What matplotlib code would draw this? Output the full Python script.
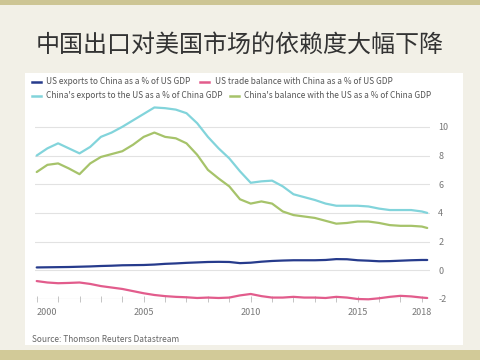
import matplotlib
matplotlib.use("Agg")
import matplotlib.pyplot as plt
from matplotlib.lines import Line2D
from matplotlib.patches import Rectangle

plt.rcParams['font.family'] = ['Noto Sans CJK SC', 'DejaVu Sans']

title = "中国出口对美国市场的依赖度大幅下降"
source = "Source: Thomson Reuters Datastream"
series_names = [
    "US exports to China as a % of US GDP",
    "US trade balance with China as a % of US GDP",
    "China's exports to the US as a % of China GDP",
    "China's balance with the US as a % of China GDP",
]
colors = ["#263b8c", "#e25c8c", "#82d4db", "#a6c36a"]

years = [2000.0, 2000.5, 2001.0, 2001.5, 2002.0, 2002.5, 2003.0, 2003.5, 2004.0, 2004.5,
         2005.0, 2005.5, 2006.0, 2006.5, 2007.0, 2007.5, 2008.0, 2008.5, 2009.0, 2009.5,
         2010.0, 2010.5, 2011.0, 2011.5, 2012.0, 2012.5, 2013.0, 2013.5, 2014.0, 2014.5,
         2015.0, 2015.5, 2016.0, 2016.5, 2017.0, 2017.5, 2018.0, 2018.25]

us_exports = [0.20, 0.21, 0.22, 0.23, 0.25, 0.27, 0.30, 0.32, 0.35, 0.36,
              0.37, 0.40, 0.45, 0.48, 0.52, 0.55, 0.58, 0.59, 0.58, 0.50,
              0.53, 0.60, 0.65, 0.68, 0.70, 0.70, 0.70, 0.72, 0.78, 0.77,
              0.70, 0.67, 0.63, 0.64, 0.67, 0.70, 0.72, 0.72]

us_balance = [-0.75, -0.85, -0.90, -0.88, -0.85, -0.95, -1.10, -1.20, -1.30, -1.45,
              -1.60, -1.72, -1.80, -1.85, -1.88, -1.93, -1.90, -1.93, -1.90, -1.75,
              -1.65, -1.80, -1.90, -1.90, -1.85, -1.90, -1.90, -1.93, -1.85, -1.90,
              -2.00, -2.02, -1.95, -1.85, -1.78, -1.82, -1.90, -1.93]

cn_exports = [8.00, 8.50, 8.85, 8.50, 8.15, 8.60, 9.30, 9.60, 10.00, 10.45,
              10.90, 11.35, 11.30, 11.20, 10.95, 10.25, 9.30, 8.50, 7.80, 6.90,
              6.10, 6.20, 6.25, 5.85, 5.30, 5.10, 4.90, 4.65, 4.50, 4.50,
              4.50, 4.45, 4.30, 4.20, 4.20, 4.20, 4.10, 4.00]

cn_balance = [6.85, 7.35, 7.45, 7.10, 6.70, 7.45, 7.90, 8.10, 8.30, 8.75,
              9.30, 9.60, 9.30, 9.20, 8.85, 8.05, 7.00, 6.40, 5.85, 4.95,
              4.65, 4.80, 4.65, 4.10, 3.85, 3.75, 3.65, 3.45, 3.25, 3.30,
              3.40, 3.40, 3.30, 3.15, 3.10, 3.10, 3.05, 2.95]

yticks = [-2, 0, 2, 4, 6, 8, 10]
xtick_years = list(range(2000, 2019))
xtick_labels = {2000: "2000", 2005: "2005", 2010: "2010", 2015: "2015", 2018: "2018"}

W, H = 480, 360
fig = plt.figure(figsize=(4.8, 3.6), dpi=100)
fig.patch.set_facecolor("#f2f0e7")

def fx(px):
    return px / W

def fy(py):
    return 1 - py / H

# decorative bands
fig.patches.append(Rectangle((0, fy(5)), 1, 5 / H, transform=fig.transFigure,
                             facecolor="#cdc594", edgecolor="none", zorder=0))
fig.patches.append(Rectangle((0, 0), 1, 10 / H, transform=fig.transFigure,
                             facecolor="#d2ca98", edgecolor="none", zorder=0))
# white panel
fig.patches.append(Rectangle((fx(25), fy(345)), fx(463) - fx(25), fy(73) - fy(345),
                             transform=fig.transFigure, facecolor="white",
                             edgecolor="none", zorder=0))

fig.text(0.5, fy(45), title, ha="center", va="center", fontsize=17.3, color="#333333")

ax = fig.add_axes([fx(35), fy(299), fx(430) - fx(35), fy(101) - fy(299)])
ax.set_zorder(2)
ax.patch.set_alpha(0)
ax.set_xlim(1999.92, 2018.38)
ax.set_ylim(-2, 11.8)

for v in yticks:
    ax.axhline(v, color="#c4c4c4" if v == -2 else "#e2e2e2", lw=0.8, zorder=1)

data = [us_exports, us_balance, cn_exports, cn_balance]
for vals, c in zip(data, colors):
    ax.plot(years, vals, color=c, lw=1.6, solid_capstyle="round",
            solid_joinstyle="round", zorder=3, clip_on=False)

for s in ax.spines.values():
    s.set_visible(False)

ax.yaxis.tick_right()
ax.set_yticks(yticks)
ax.set_yticklabels([str(v) for v in yticks])
ax.tick_params(axis="y", length=0, pad=6, labelsize=6.5, labelcolor="#777777")

ax.set_xticks(xtick_years)
ax.set_xticklabels([xtick_labels.get(y, "") for y in xtick_years])
ax.tick_params(axis="x", direction="inout", length=5, width=0.7, color="#c4c4c4", pad=4,
               labelsize=6.5, labelcolor="#777777")
for lbl, y in zip(ax.get_xticklabels(), xtick_years):
    if y == 2000:
        lbl.set_horizontalalignment("left")

# legend
leg_pos = [(32, 82, 46), (200, 82, 215), (32, 96, 46), (230, 96, 244)]
for (mx, my, tx), name, c in zip(leg_pos, series_names, colors):
    fig.lines.append(Line2D([fx(mx), fx(mx + 9)], [fy(my), fy(my)], transform=fig.transFigure,
                            color=c, lw=1.8))
    fig.text(fx(tx), fy(my), name, ha="left", va="center", fontsize=6, color="#555555")

fig.text(fx(32), fy(340), source, ha="left", va="center", fontsize=6, color="#666666")

fig.savefig("out.png", dpi=100, facecolor=fig.get_facecolor())
